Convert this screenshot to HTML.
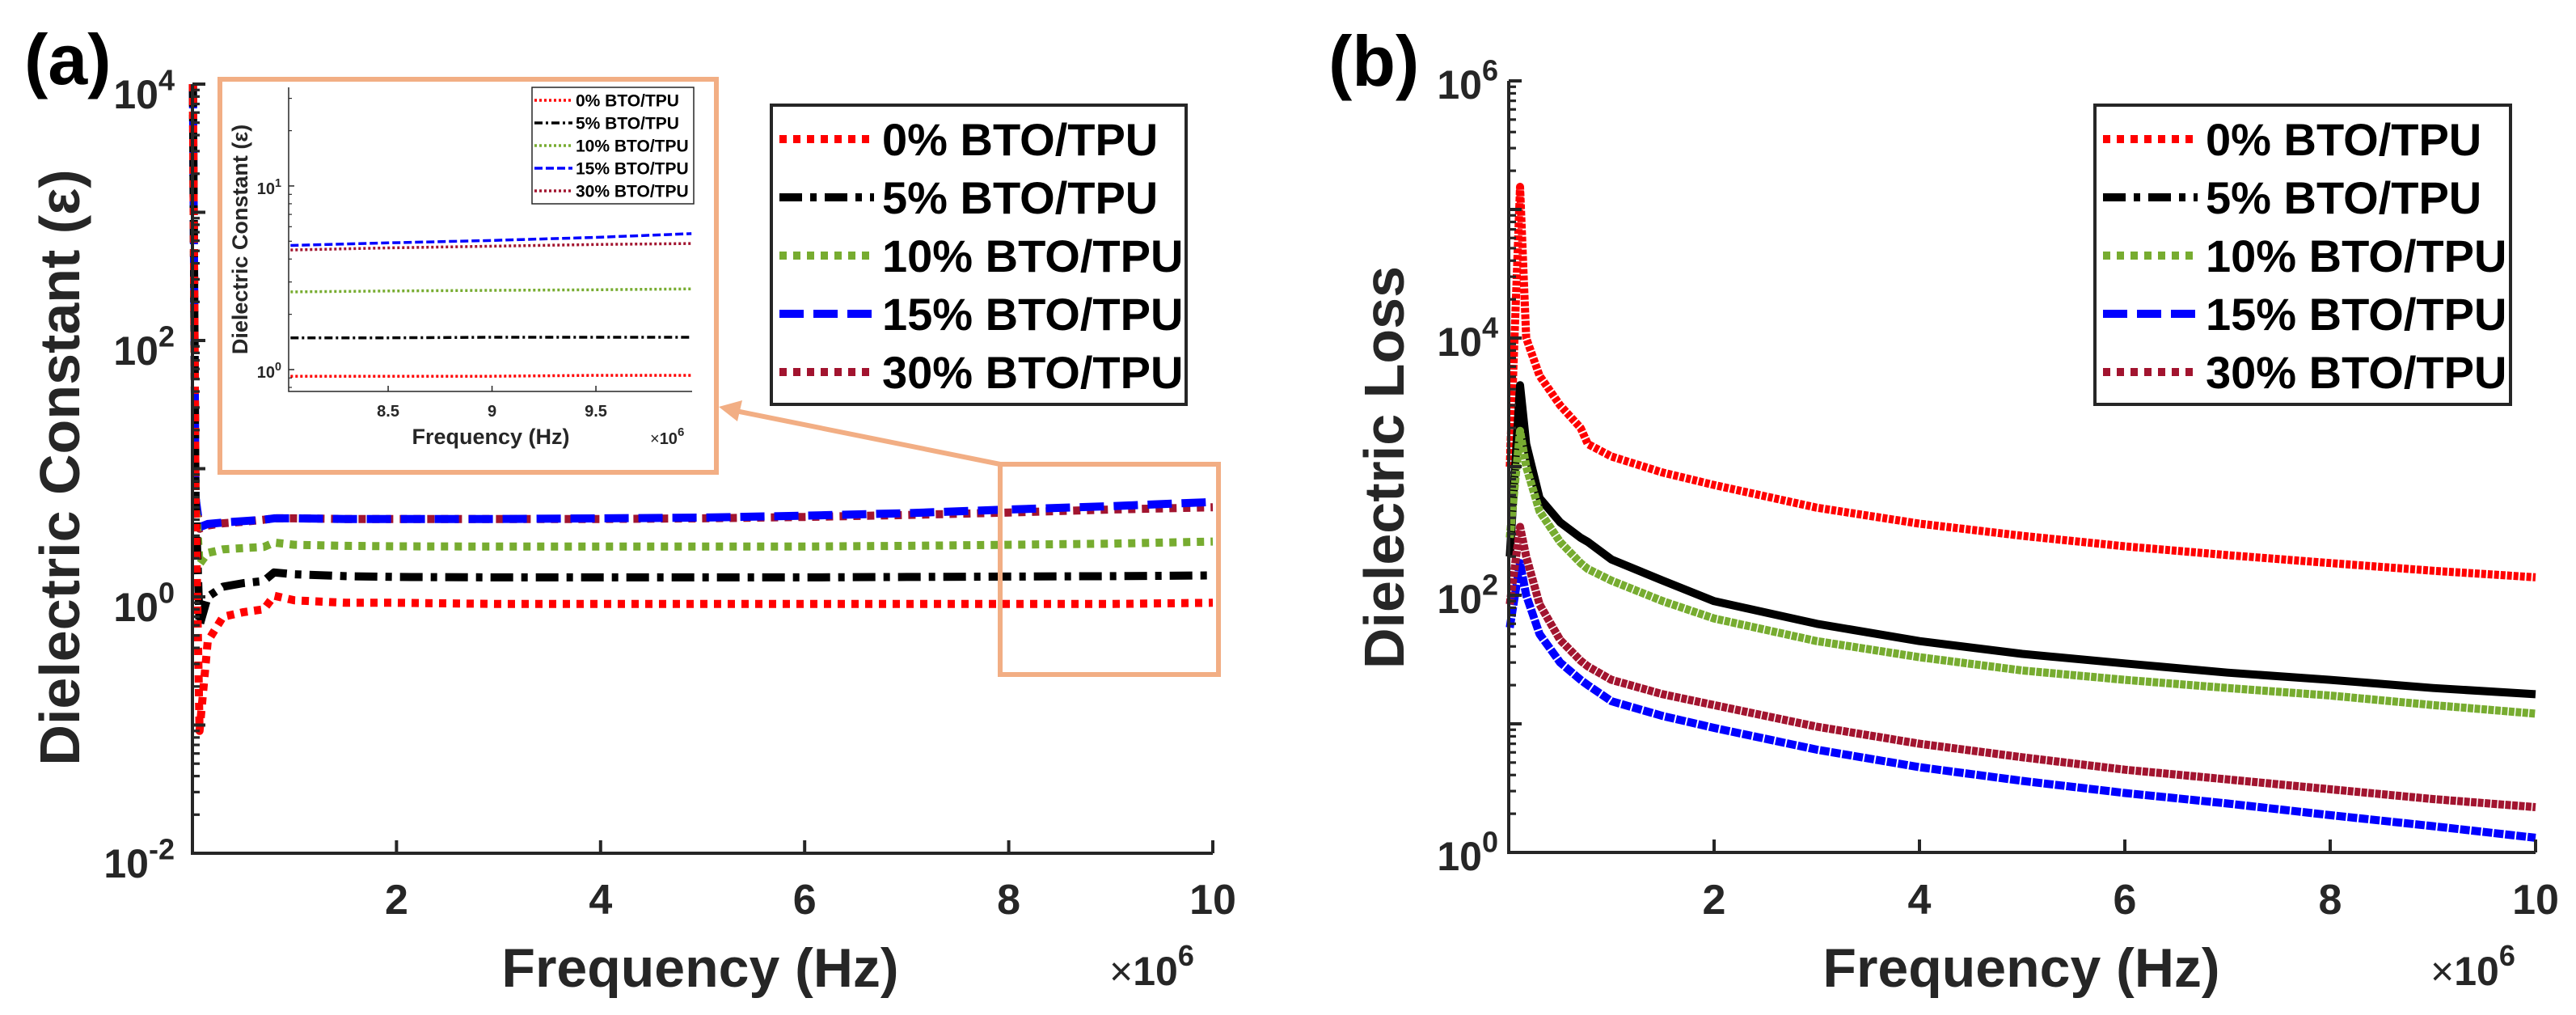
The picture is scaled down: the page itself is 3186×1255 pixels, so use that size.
<!DOCTYPE html>
<html><head><meta charset="utf-8"><style>
html,body{margin:0;padding:0;background:#fff;}
svg{display:block;font-family:"Liberation Sans",Arial,sans-serif;font-weight:bold;}
</style></head><body>
<svg id="fig" xmlns="http://www.w3.org/2000/svg" width="3186" height="1255" viewBox="0 0 3186 1255">
<rect width="3186" height="1255" fill="#fff"/>
</svg>
<script>
// ---------- data ----------
const seriesNames = ["0% BTO/TPU","5% BTO/TPU","10% BTO/TPU","15% BTO/TPU","30% BTO/TPU"];
const freqA = [0.005,0.03,0.07,0.15,0.3,0.5,0.7,0.8,1,1.5,2,3,4,5,6,7,8,9,10];
const constRed    = [10000,6,0.09,0.45,0.7,0.76,0.8,1.02,0.94,0.9,0.9,0.88,0.88,0.88,0.88,0.88,0.88,0.88,0.9];
const constBlack  = [10000,6,0.6,1.0,1.2,1.28,1.33,1.55,1.5,1.45,1.43,1.42,1.42,1.42,1.42,1.43,1.44,1.45,1.47];
const constGreen  = [10000,6,1.8,2.2,2.35,2.4,2.45,2.65,2.55,2.5,2.48,2.47,2.47,2.47,2.47,2.5,2.55,2.6,2.7];
const constBlue   = [10000,6,3.5,3.7,3.8,3.9,4.0,4.1,4.1,4.05,4.05,4.05,4.1,4.15,4.3,4.5,4.8,5.1,5.5];
const constMaroon = [10000,6,3.4,3.6,3.75,3.85,4.0,4.1,4.1,4.05,4.05,4.05,4.05,4.1,4.2,4.35,4.55,4.8,5.0];
const freqIn = [8.03,8.5,9,9.5,9.96];
const inRed    = [0.92,0.92,0.92,0.93,0.93];
const inBlack  = [1.49,1.49,1.5,1.5,1.5];
const inGreen  = [2.65,2.68,2.7,2.72,2.75];
const inBlue   = [4.74,4.9,5.05,5.25,5.5];
const inMaroon = [4.48,4.6,4.7,4.8,4.86];
const freqB = [0.01,0.11,0.17,0.3,0.5,0.7,0.77,1,1.5,2,3,4,5,6,7,8,9,10];
const lossRed    = [1000,150000,10000,5100,3000,2000,1500,1200,900,720,480,360,290,240,205,178,155,138];
const lossBlack  = [200,4300,1500,570,370,280,260,190,130,90,60,44,35,29.5,25,22,19,17];
const lossGreen  = [280,1900,1000,450,260,178,160,130,90,66,44,33,26,22,19,16.6,14,12];
const lossBlue   = [56,178,100,50,30,22,20,15,11.5,9.3,6.3,4.6,3.6,2.9,2.4,1.95,1.6,1.3];
const lossMaroon = [85,340,200,85,45,31,28,22,17,14,9.5,7,5.5,4.4,3.7,3.1,2.6,2.25];
const xTicks = [2,4,6,8,10];
const inXTicks = [8.5,9,9.5];

const colors = ["#ff0000","#000000","#77ac30","#0000ff","#a2142f"];
const dashBig = ["9 8","28 10 8 10","9 8","30 12","9 8"];
const dashSmall = ["3 3","10 4 3 4","3 3","10 4","3 3"];
const dashLoss = ["6 2","none","7 1.5","12 2","7 1.5"];
const keys = ["red","black","green","blue","maroon"];
const AX = "#262626";
const svg = document.getElementById('fig');
const NS = "http://www.w3.org/2000/svg";
function mk(tag, attrs, parent){const e=document.createElementNS(NS,tag);for(const k in attrs)e.setAttribute(k,attrs[k]);(parent||svg).appendChild(e);return e;}
function txt(s, attrs, parent){const e=mk('text',attrs,parent);e.textContent=s;return e;}
function pow10(base, exp, x, y, size, anchor, parent){
  const t=mk('text',{x:x,y:y,'font-size':size,fill:AX,'text-anchor':anchor||'end'},parent);
  const a=document.createElementNS(NS,'tspan');a.textContent=base;t.appendChild(a);
  const b=document.createElementNS(NS,'tspan');b.setAttribute('font-size',size*0.72);b.setAttribute('dy',-size*0.45);b.textContent=exp;t.appendChild(b);
  return t;
}
function makeAxes(o){
  o.xs = v => o.x0 + (v - o.xmin)/(o.xmax-o.xmin)*(o.x1-o.x0);
  o.ys = v => o.y1 - (Math.log10(v) - o.lmin)/(o.lmax-o.lmin)*(o.y1-o.y0);
  return o;
}
function drawAxes(o, g, majLen, minLen, sw){
  for(let d=Math.ceil(o.lmin); d<=Math.floor(o.lmax); d++){
    const y=o.ys(Math.pow(10,d));
    const t=mk('line',{x1:o.x0,y1:y,x2:o.x0+majLen,y2:y,stroke:AX,'stroke-width':sw},g);
    
    
  }
  for(let d=Math.floor(o.lmin); d<=Math.ceil(o.lmax); d++){
    for(let m=2;m<=9;m++){
      const v=m*Math.pow(10,d), lv=Math.log10(v);
      if(lv<o.lmin||lv>o.lmax) continue;
      const y=o.ys(v);
      const t=mk('line',{x1:o.x0,y1:y,x2:o.x0+minLen,y2:y,stroke:AX,'stroke-width':sw*0.8},g);
      
      
    }
  }
  const ax=mk('path',{d:`M${o.x0},${o.y0} L${o.x0},${o.y1} L${o.x1},${o.y1}`,fill:'none',stroke:AX,'stroke-width':sw},g);
  
  
}
function drawSeries(o, g, xs, ys, i, w, dash, name){
  const pts=xs.map((x,k)=>o.xs(x).toFixed(1)+','+o.ys(ys[k]).toFixed(1)).join(' ');
  const p=mk('polyline',{points:pts,fill:'none',stroke:colors[i],'stroke-width':w,'stroke-dasharray':dash,'stroke-linejoin':'round'},g);
  
  
}
function drawLegend(g, bx, by, bw, bh, lx0, lx1, tx, ys, fs, w, dashes, sw){
  const r=mk('rect',{x:bx,y:by,width:bw,height:bh,fill:'#fff',stroke:AX,'stroke-width':sw},g);
  
  
  for(let i=0;i<5;i++){
    const l=mk('line',{x1:lx0,y1:ys[i],x2:lx1,y2:ys[i],stroke:colors[i],'stroke-width':w,'stroke-dasharray':dashes[i]},g);
    
    
    const t=txt(seriesNames[i],{x:tx,y:ys[i]+fs*0.36,'font-size':fs,fill:'#000'},g);
    
    
  }
}

// ---------- panel (a) ----------
const gA=mk('g',{});


const A=makeAxes({x0:238,x1:1500,y0:104,y1:1055,xmin:0,xmax:10,lmin:-2,lmax:4});
const aSeries=[constRed,constBlack,constGreen,constBlue,constMaroon];
[4,3,2,1,0].forEach(i=>drawSeries(A,gA,freqA,aSeries[i],i,10,dashBig[i],'series-'+keys[i]));
drawAxes(A,gA,16,9,4);
xTicks.forEach(v=>{
  const x=A.xs(v);
  const t=mk('line',{x1:x,y1:A.y1,x2:x,y2:A.y1-16,stroke:AX,'stroke-width':4},gA);
  
  
  const l=txt(String(v),{x:x,y:1130,'font-size':52,fill:AX,'text-anchor':'middle'},gA);
  
  
});
[-2,0,2,4].forEach(d=>{
  const l=pow10('10',String(d),216,A.ys(Math.pow(10,d))+30,50,'end',gA);
  
  
});
let t=txt('Frequency (Hz)',{x:866,y:1220,'font-size':68,fill:AX,'text-anchor':'middle'},gA);


t=mk('text',{x:1372,y:1218,'font-size':50,fill:AX},gA);
t.innerHTML='<tspan font-weight="normal">×</tspan>10<tspan font-size="36" dy="-24">6</tspan>';


t=txt('Dielectric Constant (ε)',{x:0,y:0,'font-size':70,fill:AX,'text-anchor':'middle',transform:'translate(98,578) rotate(-90)'},gA);


t=txt('(a)',{x:30,y:104,'font-size':88,fill:'#000'},gA);


drawLegend(gA,954,130,513,370,964,1081,1091,[172,244,316,388,460],56,10,dashBig,4);

// zoom box + arrow
const OR="#f2ae84";
t=mk('rect',{x:1237,y:574,width:270,height:260,fill:'none',stroke:OR,'stroke-width':6},gA);


t=mk('line',{x1:1237,y1:574,x2:905,y2:507,stroke:OR,'stroke-width':6},gA);


t=mk('polygon',{points:'889,503 918,495 912,521',fill:OR},gA);



// inset
const gI=mk('g',{});


t=mk('rect',{x:272,y:98,width:614,height:486,fill:'#fff',stroke:OR,'stroke-width':6},gI);


const I=makeAxes({x0:357,x1:856,y0:108,y1:484,xmin:8.021,xmax:9.963,lmin:-0.119,lmax:1.537});
const iSeries=[inRed,inBlack,inGreen,inBlue,inMaroon];
[4,3,2,1,0].forEach(i=>drawSeries(I,gI,freqIn,iSeries[i],i,3.5,dashSmall[i],'inset-series-'+keys[i]));
drawAxes(I,gI,7,4,1.5);
inXTicks.forEach(v=>{
  const x=I.xs(v);
  const tk=mk('line',{x1:x,y1:I.y1,x2:x,y2:I.y1-7,stroke:AX,'stroke-width':1.5},gI);
  
  
  const l=txt(String(v),{x:x,y:515,'font-size':20,fill:AX,'text-anchor':'middle'},gI);
  
  
});
[0,1].forEach(d=>{
  const l=pow10('10',String(d),348,I.ys(Math.pow(10,d))+10,20,'end',gI);
  
  
});
t=txt('Frequency (Hz)',{x:607,y:549,'font-size':27,fill:AX,'text-anchor':'middle'},gI);


t=mk('text',{x:804,y:549,'font-size':20,fill:AX},gI);
t.innerHTML='<tspan font-weight="normal">×</tspan>10<tspan font-size="15" dy="-10">6</tspan>';


t=txt('Dielectric Constant (ε)',{x:0,y:0,'font-size':27,fill:AX,'text-anchor':'middle',transform:'translate(306,296) rotate(-90)'},gI);


drawLegend(gI,658,108,200,144,661,708,712,[124,152,180,208,236],21,3.5,dashSmall,1.5);

// ---------- panel (b) ----------
const gB=mk('g',{});


const B=makeAxes({x0:1866,x1:3136,y0:100,y1:1054,xmin:0,xmax:10,lmin:0,lmax:6});
const bSeries=[lossRed,lossBlack,lossGreen,lossBlue,lossMaroon];
[0,1,2,3,4].forEach(i=>drawSeries(B,gB,freqB,bSeries[i],i,10,dashLoss[i],'loss-series-'+keys[i]));
drawAxes(B,gB,16,9,4);
xTicks.forEach(v=>{
  const x=B.xs(v);
  const tk=mk('line',{x1:x,y1:B.y1,x2:x,y2:B.y1-16,stroke:AX,'stroke-width':4},gB);
  
  
  const l=txt(String(v),{x:x,y:1130,'font-size':52,fill:AX,'text-anchor':'middle'},gB);
  
  
});
[0,2,4,6].forEach(d=>{
  const l=pow10('10',String(d),1853,B.ys(Math.pow(10,d))+22,50,'end',gB);
  
  
});
t=txt('Frequency (Hz)',{x:2500,y:1220,'font-size':68,fill:AX,'text-anchor':'middle'},gB);


t=mk('text',{x:3006,y:1218,'font-size':50,fill:AX},gB);
t.innerHTML='<tspan font-weight="normal">×</tspan>10<tspan font-size="36" dy="-24">6</tspan>';


t=txt('Dielectric Loss',{x:0,y:0,'font-size':70,fill:AX,'text-anchor':'middle',transform:'translate(1736,578) rotate(-90)'},gB);


t=txt('(b)',{x:1643,y:106,'font-size':88,fill:'#000'},gB);


drawLegend(gB,2591,130,514,370,2601,2718,2728,[172,244,316,388,460],56,10,dashBig,4);
</script>
</body></html>
